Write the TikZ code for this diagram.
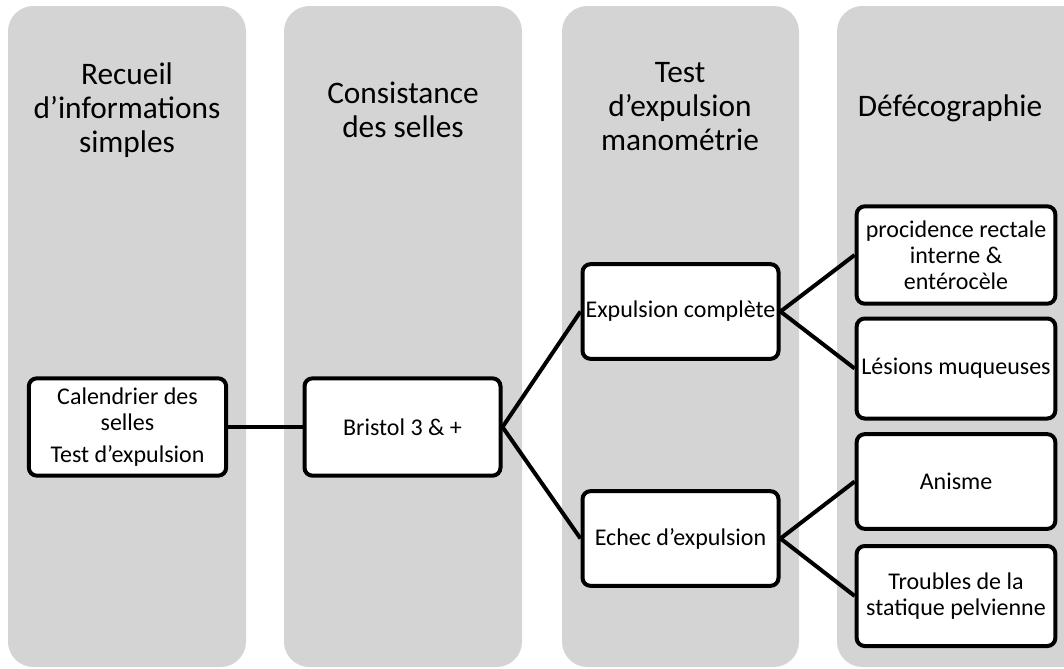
\documentclass[tikz,border=0pt]{standalone}
\usepackage{fontspec}
\setmainfont{Carlito}
\usetikzlibrary{positioning}
\definecolor{colgray}{RGB}{212,212,212}

\begin{document}
\begin{tikzpicture}[x=0.75pt,y=-0.75pt,
    column/.style={fill=colgray, rounded corners=19pt},
    head/.style={align=center, font=\fontsize{23.5}{25.5}\selectfont},
    box/.style={draw=black, line width=3pt, fill=white, rounded corners=6pt,
      align=center, inner sep=1pt, font=\fontsize{18}{19.5}\selectfont},
    link/.style={black, line width=3pt}]
     \useasboundingbox (0,0) rectangle (1064,668);
     \clip (0,0) rectangle (1064,668);

     % columns
     \fill[column] (8,6) rectangle (246,667);
     \fill[column] (284,6) rectangle (522,667);
     \fill[column] (562,6) rectangle (799,667);
     \fill[column] (837,6) rectangle (1100,667);

     \node[head] (H1) at (127,110) {Recueil\\d’informations\\simples};
     \node[head] (H2) at (403,110) {Consistance\\des selles};
     \node[head] (H3) at (680,107) {Test\\d’expulsion\\manométrie};
     \node[head] (H4) at (950,108) {Défécographie};

     % boxes
     \node[box, minimum width=148pt, minimum height=73pt] (cal) at (127.5,427)
          {Calendrier des\\selles\\[4pt]Test d’expulsion};
     \node[box, minimum width=147pt, minimum height=73pt] (bri) at (402.5,427) {Bristol 3 \& +};
     \node[box, minimum width=147pt, minimum height=71pt] (exc) at (680.5,311.5) {Expulsion complète};
     \node[box, minimum width=147pt, minimum height=71pt] (ech) at (680.5,538.5) {Echec d’expulsion};
     \node[box, minimum width=149pt, minimum height=73pt] (pro) at (956,255)
          {procidence rectale\\interne \&\\entérocèle};
     \node[box, minimum width=149pt, minimum height=75pt] (les) at (956,368.5) {Lésions muqueuses};
     \node[box, minimum width=149pt, minimum height=71pt] (ani) at (956,481.5) {Anisme};
     \node[box, minimum width=149pt, minimum height=75pt] (tro) at (956,596)
          {Troubles de la\\statique pelvienne};

     % connectors
     \draw[link] (cal.east) -- (bri.west);
     \draw[link] (bri.east) -- (exc.west);
     \draw[link] (bri.east) -- (ech.west);
     \draw[link] (exc.east) -- (pro.west);
     \draw[link] (exc.east) -- (les.west);
     \draw[link] (ech.east) -- (ani.west);
     \draw[link] (ech.east) -- (tro.west);

  \end{tikzpicture}
\end{document}
